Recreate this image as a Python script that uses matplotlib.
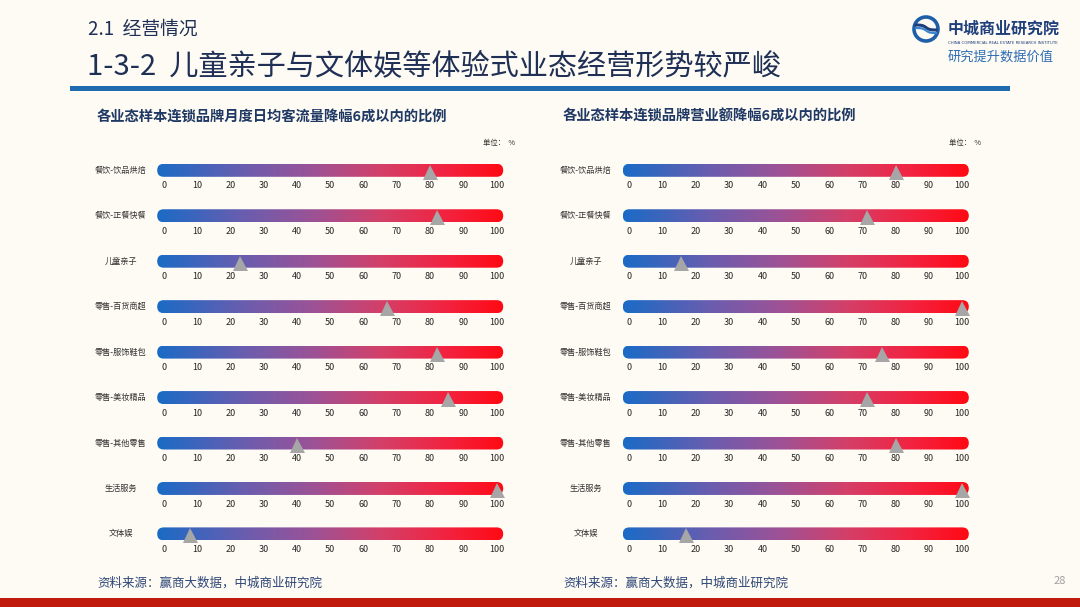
import matplotlib
matplotlib.use('Agg')
import matplotlib.pyplot as plt
import numpy as np
from matplotlib.colors import LinearSegmentedColormap
from matplotlib.patches import Rectangle, Circle, FancyBboxPatch
from matplotlib.lines import Line2D

plt.rcParams['font.family'] = ['Noto Sans CJK SC', 'DejaVu Sans']

# data (share of brands whose drop stayed within 60%, %)
categories = ['餐饮-饮品烘焙', '餐饮-正餐快餐', '儿童亲子', '零售-百货商超', '零售-服饰鞋包',
              '零售-美妆精品', '零售-其他零售', '生活服务', '文体娱']
traffic_share = [80, 82, 23, 67, 82, 85.5, 40, 100, 8]
sales_share = [80, 71.5, 15.5, 100, 76, 71.5, 80, 100, 17]
scale_ticks = [0, 10, 20, 30, 40, 50, 60, 70, 80, 90, 100]

section_title = '2.1  经营情况'
main_title = '1-3-2  儿童亲子与文体娱等体验式业态经营形势较严峻'
panel_titles = ['各业态样本连锁品牌月度日均客流量降幅6成以内的比例',
                '各业态样本连锁品牌营业额降幅6成以内的比例']
source_text = '资料来源：赢商大数据，中城商业研究院'
unit_text = '单位：  %'

W, H, DPI = 1080, 607, 100
BG = '#FDFBF3'
NAVY = '#1F2F55'
PX_PER_UNIT = 3.33

cmap = LinearSegmentedColormap.from_list(
    'bar', [(0.0, '#1A6BC6'), (0.25, '#6A5DAF'), (0.45, '#9C5296'),
            (0.65, '#D43F68'), (0.84, '#F3223F'), (1.0, '#FF0A14')])

fig = plt.figure(figsize=(W / DPI, H / DPI), dpi=DPI, facecolor=BG)


def fx(x):
    return x / W


def fy(y):
    return 1 - y / H


def px_axes(x, y, w, h):
    return fig.add_axes([x / W, 1 - (y + h) / H, w / W, h / H])


def draw_row(ax, value):
    # pill shaped bar: rounded box whose corner radius is 6.5 px in both directions
    r = 6.5 / PX_PER_UNIT
    pill = FancyBboxPatch((-r, -6.5), 100 + 2 * r, 13,
                          boxstyle='round,pad=0,rounding_size=%f' % r,
                          mutation_aspect=PX_PER_UNIT, fc='none', ec='none')
    ax.add_patch(pill)
    grad = np.linspace(0, 1, 256)[None, :]
    im = ax.imshow(grad, cmap=cmap, extent=[-r, 100 + r, -6.5, 6.5], aspect='auto',
                   interpolation='bilinear', zorder=2)
    im.set_clip_path(pill)
    ax.plot([value], [-1.5], marker='^', ms=15 * 72 / DPI, color='#A6A6A6',
            markeredgewidth=0, clip_on=False, zorder=5)
    ax.set_xlim(-5, 105)
    ax.set_ylim(-9, 9)
    ax.set_xticks(scale_ticks)
    ax.set_yticks([])
    ax.tick_params(axis='x', length=0, pad=1.5, labelsize=6.5, labelcolor='#262626')
    for s in ax.spines.values():
        s.set_visible(False)
    ax.patch.set_alpha(0)


# header
fig.text(fx(88), fy(29), section_title, fontsize=13.5, color=NAVY, va='center', ha='left')
fig.text(fx(87), fy(66), main_title, fontsize=21, fontweight='medium', color=NAVY,
         va='center', ha='left')
fig.add_artist(Line2D([fx(72), fx(1007)], [fy(87.5), fy(87.5)], lw=5 * 72 / DPI,
                      color='#1E6BB0', transform=fig.transFigure))

# logo
lax = px_axes(908, 12, 36, 34)
lax.set_xlim(-18, 18)
lax.set_ylim(-17, 17)
lax.set_aspect('equal')
lax.axis('off')
lax.add_patch(Circle((0, 0), 12, fill=False, ec='#1F5FA8', lw=2.6))
wx = np.linspace(-10, 10, 40)
lax.plot(wx, 2.5 - 5 / (1 + np.exp(-wx / 1.8)) + 1.5, color='#1F3E7C', lw=2.2)
lax.plot(wx, -0.5 - 5 / (1 + np.exp(-wx / 1.8)) + 1.5, color='#3A86D0', lw=1.6)
fig.text(fx(948), fy(29), '中城商业研究院', fontsize=11.5, fontweight='bold',
         color='#1F3E7C', va='center', ha='left')
fig.text(fx(948), fy(43), 'CHINA COMMERCIAL REAL ESTATE RESEARCH INSTITUTE',
         fontsize=2.8, color='#1F3E7C', va='center', ha='left', family='DejaVu Sans')
fig.text(fx(948), fy(57), '研究提升数据价值', fontsize=9.5, color='#2E6DB4',
         va='center', ha='left', style='italic')

# panels
panels = [
    dict(values=traffic_share, title=panel_titles[0], title_x=97, zero_x=163.7,
         label_cx=120.5, unit_right=515),
    dict(values=sales_share, title=panel_titles[1], title_x=563, zero_x=629.3,
         label_cx=585.5, unit_right=981),
]

row_y0, row_step = 170.3, 45.45

for p in panels:
    fig.text(fx(p['title_x']), fy(117), p['title'], fontsize=10.3, fontweight='bold',
             color='#1F3864', va='center', ha='left')
    fig.text(fx(p['unit_right']), fy(142.5), unit_text, fontsize=5.3, color='#333333',
             va='center', ha='right')
    for i, (cat, val) in enumerate(zip(categories, p['values'])):
        cy = row_y0 + i * row_step
        ax = px_axes(p['zero_x'] - 5 * PX_PER_UNIT, cy - 9, 110 * PX_PER_UNIT, 18)
        draw_row(ax, val)
        fig.text(fx(p['label_cx']), fy(cy), cat, fontsize=5.9, color='#333333',
                 va='center', ha='center')
    fig.text(fx(p['title_x']), fy(583), source_text, fontsize=9, color='#2E4677',
             va='center', ha='left')

fig.text(fx(1066), fy(581), '28', fontsize=8, color='#A0A0A0', va='center', ha='right')

# bottom band
fig.add_artist(Rectangle((0, 0), 1, 9 / H, transform=fig.transFigure,
                         color='#C01A0C', lw=0))

fig.savefig('out.png', dpi=DPI, facecolor=fig.get_facecolor())
